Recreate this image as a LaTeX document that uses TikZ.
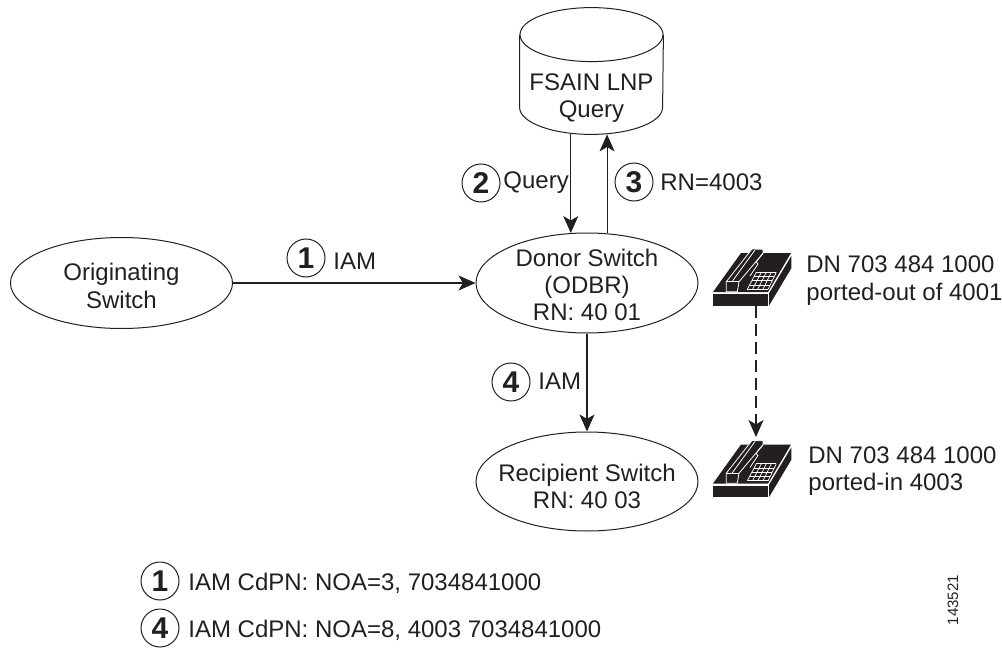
\documentclass[tikz,border=0pt]{standalone}
\usepackage{fontspec}
\setmainfont{Liberation Sans}
\usetikzlibrary{arrows.meta,shapes.geometric}
\definecolor{inkblack}{HTML}{231F20}
\tikzset{
  every node/.style={text=inkblack},
  bodytext/.style={font=\fontsize{12}{13.7}\selectfont,align=center,inner sep=0pt},
  sidetext/.style={bodytext,align=left,anchor=west},
  switchnode/.style={draw=inkblack,ellipse,line width=0.5pt,inner sep=0pt,minimum width=111pt},
  dbnode/.style={rectangle,inner sep=0pt,minimum width=71.5pt,minimum height=63pt},
  dbend/.style={x radius=35.75pt,y radius=13.5pt},
  stepmark/.style={draw=inkblack,circle,line width=0.5pt,inner sep=0pt,minimum size=19pt,font=\fontsize{15}{15}\selectfont\bfseries},
  flow/.style={-{Stealth[length=8.5pt,width=7.5pt,inset=2.2pt]},draw=inkblack,line width=0.55pt},
  pics/deskphone/.style={code={
    \fill[inkblack] (0,0) -- (28,-39) -- (78,-39) -- (55,0) -- cycle;
    \fill[inkblack] (0,2) rectangle (54.5,13.7);
    \fill[inkblack] (56,1.3) -- (78.3,-36) -- (78.3,-23.7) -- (56,13.7) -- cycle;
    \filldraw[fill=inkblack,draw=white,line width=0.4pt] (13.3,-10.3) -- (13.3,-0.3) -- (24.3,-0.3) -- (26,-10.3)
      -- (50,-38.7) -- (50,-42.7) -- (39,-43) -- cycle;
    \draw[white,line width=0.4pt] (13.3,-10.3) -- (26,-10.3);
    \draw[white,line width=0.4pt] (19,-10.3) -- (42,-42);
    \draw[white,line width=0.4pt] (50,-38.7) -- (43,-30) -- (45,-28) -- (37,-16);
    \foreach \i in {0,...,4} {
      \draw[white,line width=0.35pt] ({43.3+5*\i},-19.7) -- ({34.3+5.2*\i},-2.7);
      \draw[white,line width=0.35pt] ({43.3-9*\i/4},{-19.7+17*\i/4}) -- ({63.3-8.3*\i/4},{-19.7+17*\i/4});
    }
    \coordinate (-bottom) at (43,14);
    \coordinate (-top) at (43,-46.5);
  }}
}
\begin{document}
\begin{tikzpicture}[x=0.5pt,y=-0.5pt]
  \useasboundingbox (0,0) rectangle (1002,648);
  \draw
    (121.5,283) node[switchnode,minimum height=45.5pt,label={[bodytext,yshift=-1.5pt]center:Originating\\Switch}] (orig){}
    (587,283) node[switchnode,minimum height=50pt,label={[bodytext,yshift=-1pt]center:Donor Switch\\(ODBR)\\RN: 40 01}] (donor){}
    (587,481.5) node[switchnode,minimum height=49.5pt,label={[bodytext,yshift=-2.5pt]center:Recipient Switch\\RN: 40 03}] (recip){}
    (591.5,71) node[dbnode,label={[bodytext,yshift=-13.5pt]center:FSAIN LNP\\Query}] (db){};
  \draw[draw=inkblack,line width=0.5pt] ([yshift=-13.5pt]db.north) ellipse [dbend];
  \draw[draw=inkblack,line width=0.5pt] ([yshift=-13.5pt]db.north west) -- ([yshift=13.5pt]db.south west)
    arc [start angle=180,end angle=360,dbend] -- ([yshift=-13.5pt]db.north east);
  \pic (phoneout) at (713,292) {deskphone};
  \pic (phonein) at (713,483.5) {deskphone};
  \draw
    (306,258) node[stepmark] (markone){1}
    (481,183) node[stepmark] (marktwo){2}
    (634,182) node[stepmark] (markthree){3}
    (511,382) node[stepmark] (markfour){4}
    (160,581) node[stepmark] (legendone){1}
    (160,628) node[stepmark] (legendfour){4};
  \path
    (333,261) node[sidetext] (iamone){IAM}
    (503,183) node[sidetext] (querytxt){Query}
    (660,182) node[sidetext] (rntxt){RN=4003}
    (538,381) node[sidetext] (iamfour){IAM}
    (806,280.5) node[sidetext] (dnout){DN 703 484 1000\\ported-out of 4001}
    (808,471) node[sidetext] (dnin){DN 703 484 1000\\ported-in 4003}
    (188,583) node[sidetext] (legendonetxt){IAM CdPN: NOA=3, 7034841000}
    (188,630) node[sidetext] (legendfourtxt){IAM CdPN: NOA=8, 4003 7034841000}
    (953,600) node[rotate=90,inner sep=0pt,font=\fontsize{7.5}{8}\selectfont] (artid){143521};
  \begin{scope}[flow]
    \draw (orig) to (donor);
    \draw (donor.108 |- db.south) to (donor.108);
    \draw (donor.68) to (donor.68 |- db.south);
    \draw (donor) to (recip);
    \draw[dash pattern=on 6pt off 3pt] (phoneout-bottom) to (phonein-top);
  \end{scope}
\end{tikzpicture}
\end{document}
